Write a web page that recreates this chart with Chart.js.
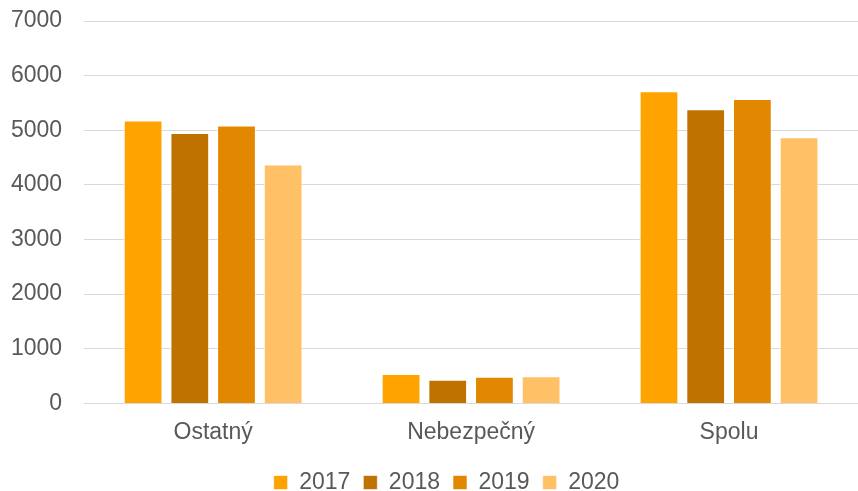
<!DOCTYPE html>
<html><head><meta charset="utf-8">
<script src="https://cdn.jsdelivr.net/npm/chart.js@4.4.0/dist/chart.umd.min.js"></script>
<style>html,body{margin:0;padding:0;background:#fff}#wrap{width:858px;height:491px}</style>
</head><body><div id="wrap"><canvas id="c"></canvas></div>
<script>
const categories = ['Ostatný', 'Nebezpečný', 'Spolu'];
const seriesNames = ['2017', '2018', '2019', '2020'];
const v2017 = [5178, 536, 5714];
const v2018 = [4952, 431, 5383];
const v2019 = [5086, 486, 5572];
const v2020 = [4371, 499, 4870];
const yTicks = [0, 1000, 2000, 3000, 4000, 5000, 6000, 7000];
const colors = ['#FFA300', '#BF7200', '#E28700', '#FFC066'];
const allValues = [v2017, v2018, v2019, v2020];

Chart.defaults.font.family = '"Liberation Sans", Arial, sans-serif';
Chart.defaults.color = '#595959';

const legendShift = {
  id: 'legendShift',
  afterLayout(chart) {
    const l = chart.legend;
    if (l) { l.left += 21; l.right += 21; }
  }
};

new Chart(document.getElementById('c'), {
  type: 'bar',
  data: {
    labels: categories,
    datasets: seriesNames.map((n, i) => ({
      label: n,
      data: allValues[i],
      backgroundColor: colors[i],
      borderColor: 'rgba(255,255,255,0.6)',
      borderWidth: 1,
      categoryPercentage: 0.724,
      barPercentage: 0.83
    }))
  },
  plugins: [legendShift],
  options: {
    responsive: true,
    maintainAspectRatio: false,
    animation: false,
    devicePixelRatio: 1,
    layout: { padding: { left: -11, right: -4, top: 21, bottom: -13 } },
    plugins: {
      legend: {
        position: 'bottom',
        labels: { boxWidth: 14, boxHeight: 14, font: { size: 23 }, padding: 13, color: '#595959' }
      },
      tooltip: { enabled: false }
    },
    scales: {
      x: {
        grid: { display: false },
        border: { color: '#D9D9D9', width: 1 },
        ticks: { font: { size: 23 }, padding: 7, color: '#595959' },
        afterFit: (ax) => { ax.height += 5; }
      },
      y: {
        min: 0, max: 7000,
        afterBuildTicks: (ax) => { ax.ticks = yTicks.map(v => ({ value: v })); },
        afterFit: (ax) => { ax.paddingTop = 0; ax.paddingBottom = 0; },
        grid: { color: '#D9D9D9', lineWidth: 1, drawTicks: false },
        border: { display: false },
        ticks: { font: { size: 23 }, padding: 22, color: '#595959', callback: (v) => String(v) }
      }
    }
  }
});
</script></body></html>
